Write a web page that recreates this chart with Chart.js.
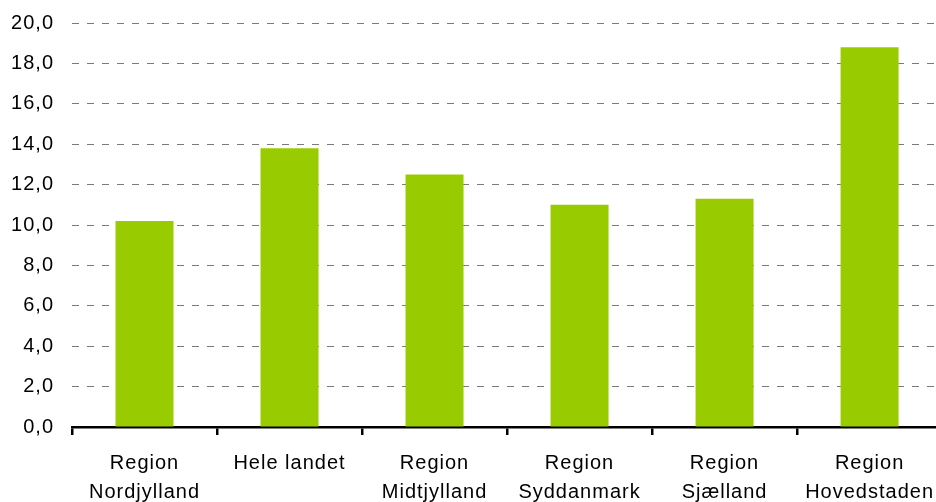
<!DOCTYPE html>
<html><head><meta charset="utf-8">
<script src="https://cdn.jsdelivr.net/npm/chart.js@4/dist/chart.umd.min.js"></script>
<style>
html,body{margin:0;padding:0;background:#fff;overflow:hidden;}
#wrap{width:936px;height:502px;overflow:hidden;position:relative;}
#c{position:absolute;left:0;top:-7px;}
</style></head><body>
<div id="wrap"><canvas id="c" width="948" height="509"></canvas></div>
<script>
const categories = [["Region","Nordjylland"],"Hele landet",["Region","Midtjylland"],["Region","Syddanmark"],["Region","Sjælland"],["Region","Hovedstaden"]];
const values = [10.2, 13.8, 12.5, 11.0, 11.3, 18.8];
const yMin = 0, yMax = 20, yStep = 2;

Chart.defaults.font.family = "'Liberation Sans', Arial, sans-serif";
Chart.defaults.color = "#000";
const spacing = {
  id: 'spacing',
  beforeDraw(chart) { chart.ctx.letterSpacing = '1px'; },
  beforeLayout(chart) { chart.ctx.letterSpacing = '1px'; }
};
new Chart(document.getElementById('c'), {
  type: 'bar',
  data: { labels: categories, datasets: [{ data: values, backgroundColor: '#99CC00', barPercentage: 0.4, categoryPercentage: 1 }] },
  options: {
    responsive: false, animation: false, devicePixelRatio: 1,
    layout: { padding: { top: 5, right: 0, left: 0, bottom: 0 } },
    plugins: { legend: { display: false }, tooltip: { enabled: false } },
    scales: {
      x: {
        grid: { offset: true, drawOnChartArea: false, drawTicks: true, tickLength: 8, color: '#000', lineWidth: 2.5 },
        border: { display: true, color: '#000', width: 2.5 },
        ticks: { font: { size: 20, lineHeight: 1.45 }, padding: 14, maxRotation: 0, autoSkip: false },
        afterFit: s => { s.height = 75; }
      },
      y: {
        min: yMin, max: yMax,
        grid: { color: '#7a7a7a', lineWidth: 1, drawTicks: false },
        border: { display: false, dash: [7, 8] },
        ticks: { stepSize: yStep, font: { size: 20 }, padding: 18, callback: v => v.toFixed(1).replace('.', ',') },
        afterFit: s => { s.width = 72; }
      }
    }
  },
  plugins: [spacing]
});
</script></body></html>
